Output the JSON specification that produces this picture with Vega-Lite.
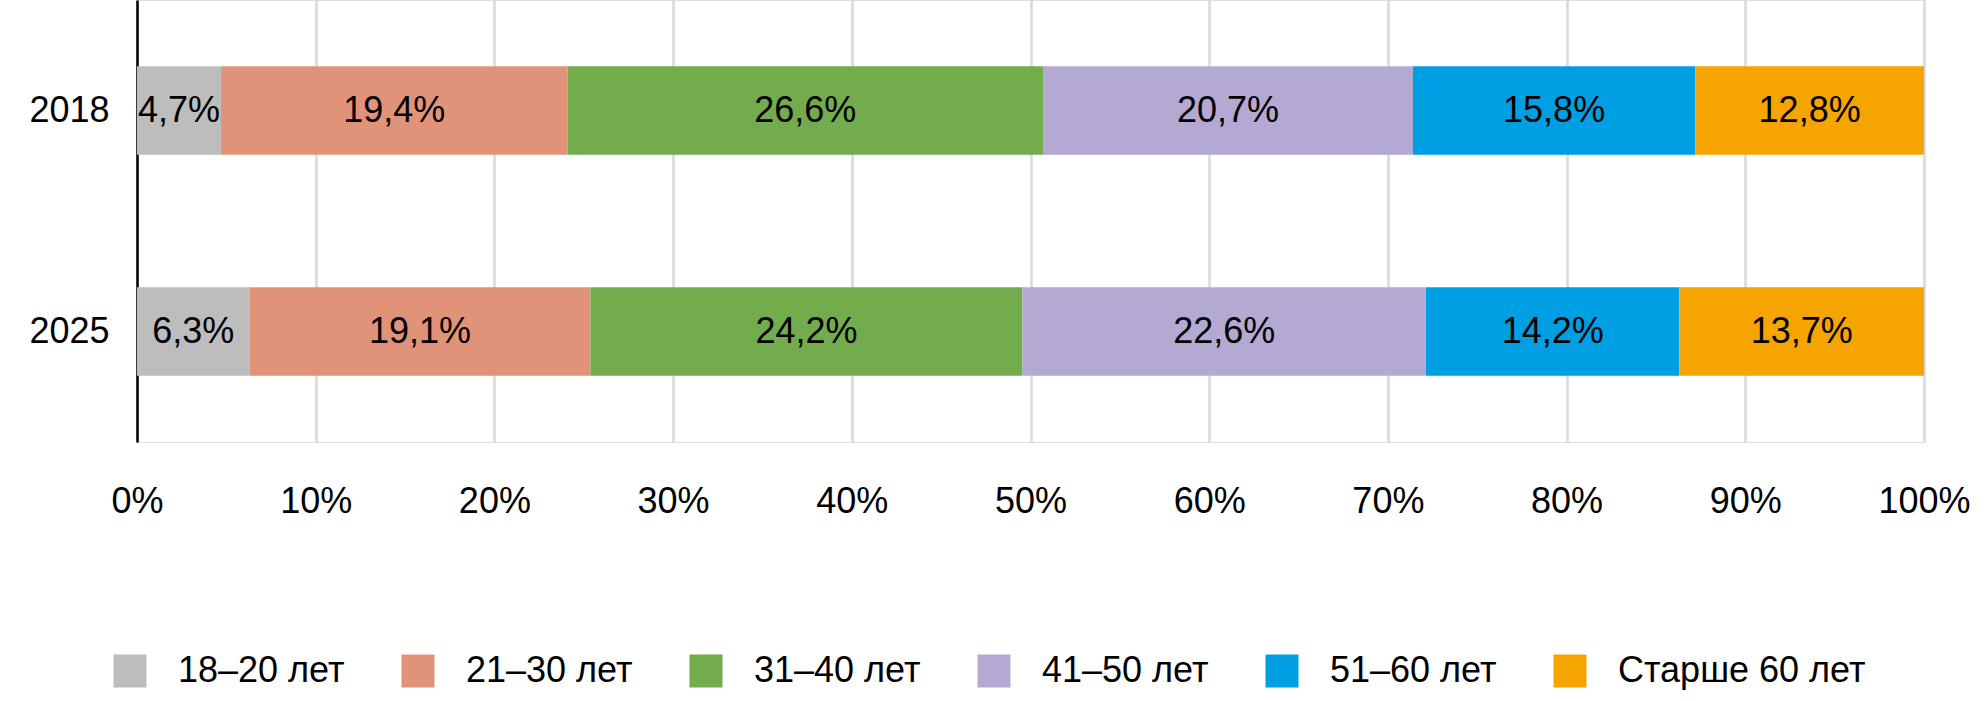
{
  "$schema": "https://vega.github.io/schema/vega-lite/v6.json",
  "description": "Age structure, 2018 vs 2025, stacked to 100%.",
  "width": 1787,
  "height": 442,
  "autosize": {"type": "none"},
  "padding": {"left": 137, "top": 0, "right": 64, "bottom": 259},
  "background": "white",
  "data": {
    "values": [
      {"year": "2018", "group": "18–20 лет", "share": 4.7},
      {"year": "2018", "group": "21–30 лет", "share": 19.4},
      {"year": "2018", "group": "31–40 лет", "share": 26.6},
      {"year": "2018", "group": "41–50 лет", "share": 20.7},
      {"year": "2018", "group": "51–60 лет", "share": 15.8},
      {"year": "2018", "group": "Старше 60 лет", "share": 12.8},
      {"year": "2025", "group": "18–20 лет", "share": 6.3},
      {"year": "2025", "group": "21–30 лет", "share": 19.1},
      {"year": "2025", "group": "31–40 лет", "share": 24.2},
      {"year": "2025", "group": "41–50 лет", "share": 22.6},
      {"year": "2025", "group": "51–60 лет", "share": 14.2},
      {"year": "2025", "group": "Старше 60 лет", "share": 13.7}
    ]
  },
  "transform": [
    {
      "stack": "share",
      "groupby": ["year"],
      "sort": [{"field": "group", "order": "ascending"}],
      "offset": "normalize",
      "as": ["x0", "x1"]
    },
    {"calculate": "(datum.x0 + datum.x1) / 2", "as": "mid"},
    {"calculate": "replace(format(datum.share, '.1f'), '.', ',') + '%'", "as": "label"}
  ],
  "encoding": {
    "y": {
      "field": "year",
      "type": "nominal",
      "sort": ["2018", "2025"],
      "scale": {"paddingInner": 0.6, "paddingOuter": 0.3},
      "axis": {
        "title": null,
        "domain": true,
        "domainColor": "#000000",
        "domainWidth": 2.5,
        "ticks": false,
        "grid": false,
        "labelPadding": 28,
        "labelFontSize": 36,
        "labelColor": "#000000",
        "labelFont": "Liberation Sans"
      }
    }
  },
  "layer": [
    {
      "mark": {"type": "bar"},
      "encoding": {
        "x": {
          "field": "x0",
          "type": "quantitative",
          "scale": {"domain": [0, 1], "nice": false},
          "axis": {
            "title": null,
            "format": ".0%",
            "values": [0, 0.1, 0.2, 0.3, 0.4, 0.5, 0.6, 0.7, 0.8, 0.9, 1],
            "domain": false,
            "ticks": false,
            "grid": true,
            "gridColor": "#D9D9D9",
            "gridWidth": 2.5,
            "labelPadding": 42,
            "labelFontSize": 36,
            "labelColor": "#000000",
            "labelFont": "Liberation Sans",
            "labelFlush": false
          }
        },
        "x2": {"field": "x1"},
        "color": {
          "field": "group",
          "type": "nominal",
          "scale": {
            "domain": ["18–20 лет", "21–30 лет", "31–40 лет", "41–50 лет", "51–60 лет", "Старше 60 лет"],
            "range": ["#BDBDBD", "#E1937A", "#72AC4C", "#B3A9D3", "#009FE3", "#F6A500"]
          },
          "legend": {
            "title": null,
            "orient": "none",
            "legendX": -25,
            "legendY": 653,
            "direction": "horizontal",
            "columns": 6,
            "gridAlign": "each",
            "columnPadding": 55,
            "symbolType": "square",
            "symbolSize": 1089,
            "symbolStrokeWidth": 0,
            "labelOffset": 30,
            "labelFontSize": 36,
            "labelColor": "#000000",
            "labelFont": "Liberation Sans",
            "labelLimit": 400
          }
        }
      }
    },
    {
      "mark": {
        "type": "text",
        "fontSize": 36,
        "font": "Liberation Sans",
        "color": "#000000",
        "align": "center",
        "baseline": "middle"
      },
      "encoding": {
        "x": {"field": "mid", "type": "quantitative"},
        "text": {"field": "label"}
      }
    }
  ]
}
